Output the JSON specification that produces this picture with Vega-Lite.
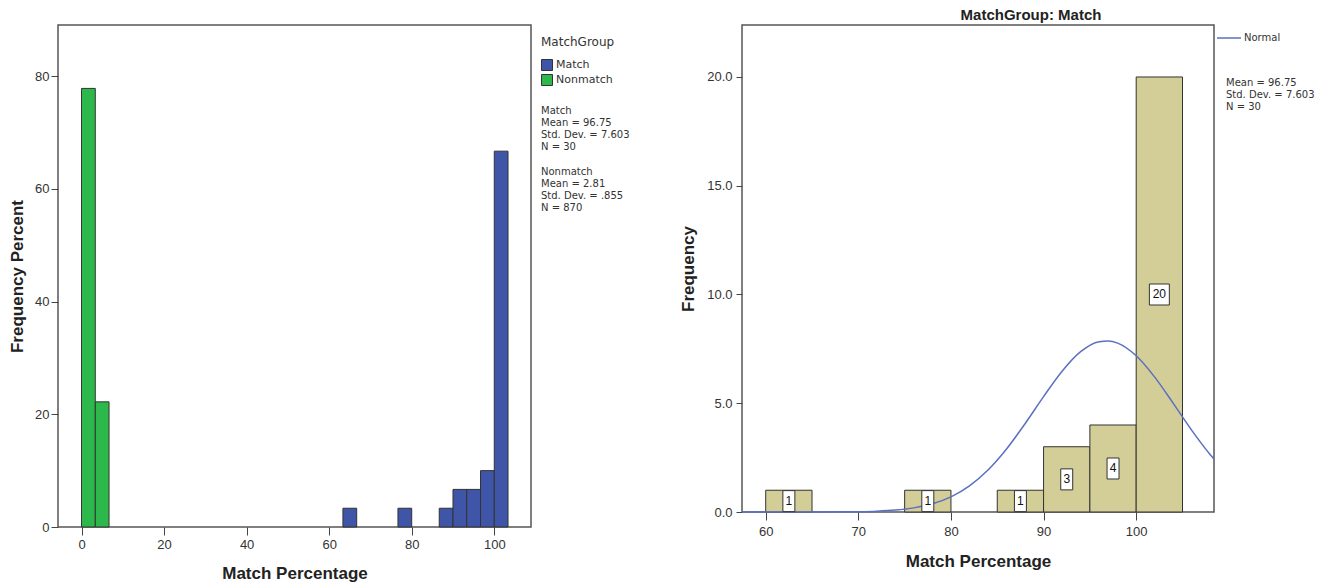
{
  "$schema": "https://vega.github.io/schema/vega-lite/v6.json",
  "background": "white",
  "padding": {"left": 7, "top": 7, "right": 5, "bottom": 5},
  "bounds": "flush",
  "spacing": 211,
  "resolve": {
    "scale": {"color": "independent", "shape": "independent", "x": "independent", "y": "independent"},
    "legend": {"color": "independent", "shape": "independent"}
  },
  "config": {
    "font": "Liberation Sans",
    "view": {"fill": "#F0F0F0", "stroke": "#555555", "strokeWidth": 1.5},
    "axis": {
      "labelFont": "Liberation Sans", "labelFontSize": 13, "labelColor": "#333333",
      "titleFont": "Liberation Sans", "titleFontSize": 17, "titleFontWeight": "bold", "titleColor": "#222222",
      "tickColor": "#444444", "tickWidth": 1, "domain": false, "grid": false, "labelFlush": false, "labelOverlap": false
    },
    "legend": {"labelFont": "DejaVu Sans", "titleFont": "DejaVu Sans", "labelColor": "#333333", "titleColor": "#333333"}
  },
  "datasets": {
    "left": [
      {"group": "Nonmatch", "start": 0, "end": 3.333, "pct": 77.8},
      {"group": "Nonmatch", "start": 3.333, "end": 6.667, "pct": 22.2},
      {"group": "Match", "start": 63.333, "end": 66.667, "pct": 3.33},
      {"group": "Match", "start": 76.667, "end": 80, "pct": 3.33},
      {"group": "Match", "start": 86.667, "end": 90, "pct": 3.33},
      {"group": "Match", "start": 90, "end": 93.333, "pct": 6.67},
      {"group": "Match", "start": 93.333, "end": 96.667, "pct": 6.67},
      {"group": "Match", "start": 96.667, "end": 100, "pct": 10.0},
      {"group": "Match", "start": 100, "end": 103.333, "pct": 66.67}
    ],
    "leftStats": [
      {"stat": "Match\nMean = 96.75\nStd. Dev. = 7.603\nN = 30"},
      {"stat": "Nonmatch\nMean = 2.81\nStd. Dev. = .855\nN = 870"}
    ],
    "right": [
      {"start": 60, "end": 65, "count": 1},
      {"start": 75, "end": 80, "count": 1},
      {"start": 85, "end": 90, "count": 1},
      {"start": 90, "end": 95, "count": 3},
      {"start": 95, "end": 100, "count": 4},
      {"start": 100, "end": 105, "count": 20}
    ],
    "normal": [
      {"x": 57.44, "y": 0}, {"x": 60, "y": 0.0001}, {"x": 62, "y": 0.0002},
      {"x": 64, "y": 0.0007}, {"x": 66, "y": 0.0022}, {"x": 68, "y": 0.0062}, {"x": 70, "y": 0.0161},
      {"x": 72, "y": 0.0394}, {"x": 74, "y": 0.0896}, {"x": 76, "y": 0.190}, {"x": 78, "y": 0.376},
      {"x": 80, "y": 0.695}, {"x": 82, "y": 1.199}, {"x": 84, "y": 1.929}, {"x": 86, "y": 2.897},
      {"x": 88, "y": 4.059}, {"x": 90, "y": 5.307}, {"x": 92, "y": 6.475}, {"x": 94, "y": 7.373},
      {"x": 96, "y": 7.832}, {"x": 97, "y": 7.867}, {"x": 98, "y": 7.765}, {"x": 100, "y": 7.184},
      {"x": 102, "y": 6.202}, {"x": 104, "y": 4.996}, {"x": 106, "y": 3.755}, {"x": 108, "y": 2.634},
      {"x": 108.4, "y": 2.433}
    ],
    "rightStats": [
      {"stat": "Mean = 96.75\nStd. Dev. = 7.603\nN = 30"}
    ]
  },
  "hconcat": [
    {
      "width": 473,
      "height": 502,
      "layer": [
        {
          "data": {"name": "left"},
          "mark": {"type": "bar", "stroke": "#333333", "strokeWidth": 1, "opacity": 1},
          "encoding": {
            "x": {"field": "start", "type": "quantitative",
                  "scale": {"domain": [-5.7, 108.9], "nice": false, "zero": false},
                  "axis": {"values": [0, 20, 40, 60, 80, 100], "title": "Match Percentage", "tickSize": 8, "labelPadding": 3, "titlePadding": 14}},
            "x2": {"field": "end"},
            "y": {"field": "pct", "type": "quantitative",
                  "scale": {"domain": [0, 89.05], "nice": false},
                  "axis": {"values": [0, 20, 40, 60, 80], "title": "Frequency Percent", "tickSize": 7, "labelPadding": 2, "titlePadding": 8}},
            "y2": {"datum": 0},
            "color": {"field": "group", "type": "nominal",
                      "scale": {"domain": ["Match", "Nonmatch"], "range": ["#3F56A8", "#2DB84B"]},
                      "legend": {"title": "MatchGroup", "orient": "right", "offset": -2, "padding": 12, "symbolType": "square", "symbolSize": 121,
                                 "symbolStrokeColor": "#333333", "symbolStrokeWidth": 1, "symbolOpacity": 1,
                                 "titleFontSize": 12, "titleFontWeight": "normal", "titlePadding": 10,
                                 "labelFontSize": 11, "labelOffset": 3, "rowPadding": -1}}
          }
        },
        {
          "data": {"name": "leftStats"},
          "mark": {"type": "point", "opacity": 0},
          "encoding": {
            "shape": {"field": "stat", "type": "nominal", "sort": null,
                      "legend": {"title": null, "orient": "right", "offset": -2, "padding": -7, "symbolSize": 0, "symbolOpacity": 0, "symbolStrokeWidth": 0,
                                 "labelExpr": "split(datum.label, '\\n')", "labelFontSize": 10, "labelOffset": 9, "labelLimit": 0,
                                 "labelBaseline": "top", "rowPadding": 10}}
          }
        }
      ]
    },
    {
      "width": 472,
      "height": 487,
      "title": {"text": "MatchGroup: Match", "fontSize": 15, "fontWeight": "bold", "color": "#222222", "anchor": "middle", "offset": 2, "dx": 53},
      "layer": [
        {
          "layer": [
            {
              "data": {"name": "right"},
              "mark": {"type": "bar", "fill": "#D3CD97", "stroke": "#333333", "strokeWidth": 1},
              "encoding": {
                "x": {"field": "start", "type": "quantitative",
                      "scale": {"domain": [57.44, 108.4], "nice": false, "zero": false},
                      "axis": {"values": [60, 70, 80, 90, 100], "title": "Match Percentage", "tickSize": 8, "labelPadding": 5, "titlePadding": 15}},
                "x2": {"field": "end"},
                "y": {"field": "count", "type": "quantitative",
                      "scale": {"domain": [0, 22.39], "nice": false},
                      "axis": {"values": [0, 5, 10, 15, 20], "format": ".1f", "title": "Frequency", "tickSize": 6, "labelPadding": 4, "titlePadding": 9}},
                "y2": {"datum": 0}
              }
            },
            {
              "data": {"name": "normal"},
              "mark": {"type": "line", "strokeWidth": 1.5, "interpolate": "monotone"},
              "encoding": {
                "x": {"field": "x", "type": "quantitative"},
                "y": {"field": "y", "type": "quantitative"},
                "color": {"datum": "Normal", "type": "nominal",
                          "scale": {"domain": ["Normal"], "range": ["#5B70C2"]},
                          "legend": {"title": null, "orient": "right", "offset": 2, "padding": 0, "symbolType": "stroke", "symbolSize": 576,
                                     "symbolStrokeWidth": 1.5, "labelFontSize": 10, "labelOffset": 2}}
              }
            }
          ]
        },
        {
          "layer": [
            {
              "mark": {"type": "point", "filled": true, "fill": "white", "stroke": "#333333", "strokeWidth": 1, "opacity": 1, "size": 441},
              "encoding": {
                "shape": {"condition": {"test": "datum.count >= 10", "value": "M-0.95,-1H0.95V1H-0.95Z"}, "value": "M-0.57,-1H0.57V1H-0.57Z"}
              }
            },
            {
              "mark": {"type": "text", "fontSize": 12, "color": "#111111", "baseline": "middle", "align": "center"},
              "encoding": {
                "text": {"field": "count", "type": "quantitative"}
              }
            }
          ],
          "data": {"name": "right"},
          "encoding": {
            "x": {"field": "end", "type": "quantitative", "scale": {"domain": [59.94, 110.9], "nice": false, "zero": false}, "axis": null},
            "y": {"field": "count", "type": "quantitative", "scale": {"domain": [0, 44.78], "nice": false}, "axis": null}
          }
        },
        {
          "data": {"name": "rightStats"},
          "mark": {"type": "point", "opacity": 0},
          "encoding": {
            "shape": {"field": "stat", "type": "nominal",
                      "legend": {"title": null, "orient": "right", "offset": 2, "padding": 22, "symbolSize": 0, "symbolOpacity": 0, "symbolStrokeWidth": 0,
                                 "labelExpr": "split(datum.label, '\\n')", "labelFontSize": 10, "labelOffset": -22, "labelLimit": 0,
                                 "labelBaseline": "top"}}
          }
        }
      ],
      "resolve": {"scale": {"x": "independent", "y": "independent"}}
    }
  ]
}
